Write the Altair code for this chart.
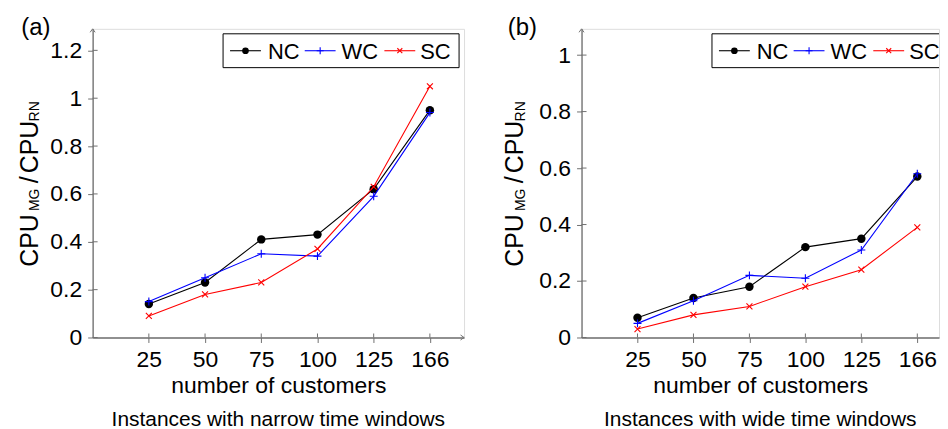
import altair as alt
import pandas as pd

# ---------------- data ----------------
customers = ["25", "50", "75", "100", "125", "166"]
series = ["NC", "WC", "SC"]
colors = ["#000000", "#0000ff", "#ff0000"]

narrow_nc = [0.14, 0.23, 0.41, 0.43, 0.62, 0.95]
narrow_wc = [0.15, 0.25, 0.35, 0.34, 0.59, 0.94]
narrow_sc = [0.09, 0.18, 0.23, 0.37, 0.63, 1.05]

wide_nc = [0.07, 0.14, 0.18, 0.32, 0.35, 0.57]
wide_wc = [0.05, 0.13, 0.22, 0.21, 0.31, 0.58]
wide_sc = [0.03, 0.08, 0.11, 0.18, 0.24, 0.39]

yticks_narrow = [0, 0.2, 0.4, 0.6, 0.8, 1.0, 1.2]
yticks_wide = [0, 0.2, 0.4, 0.6, 0.8, 1.0]

# ---------------- style ----------------
FONT = "Liberation Sans"
GRAY = "#707070"
H = 310

shapes = {"NC": "circle", "WC": "M-1,0L1,0M0,-1L0,1", "SC": "M-1,-1L1,1M-1,1L1,-1"}
sizes = {"NC": 72, "WC": 64, "SC": 36}
leg_sizes = {"NC": 45, "WC": 49, "SC": 25}
filled = {"NC": True, "WC": False, "SC": False}

# legend layout (plot-relative pixels)
leg_line_x = [138, 213, 293]
leg_text_x = [176, 250, 329]
LEG_Y = 22


def one():
    return alt.Chart(pd.DataFrame({"t": [""]}))


def txt(t, **kw):
    return alt.Chart(pd.DataFrame({"t": [t]})).mark_text(font=FONT, color="black", **kw)


def panel(values, yticks, ymax, step, width, frame, label, label_dx, ytitle_dx, caption, x_arrow):
    xmax = width / step
    idx = list(range(1, len(customers) + 1))
    label_expr = "[" + ",".join(f"'{c}'" for c in customers) + "][datum.value - 1]"
    xenc = alt.X(
        "idx:Q",
        scale=alt.Scale(domain=[0, xmax], nice=False, zero=False),
        axis=alt.Axis(
            values=idx, labelExpr=label_expr, title="number of customers", grid=False,
            domainColor=GRAY, tickColor=GRAY, tickSize=5, domainWidth=1.3, tickWidth=1,
            labelFontSize=23, labelColor="black", labelPadding=6, labelFont=FONT,
            titleFont=FONT, titleFontSize=23, titleFontWeight="normal", titleColor="black",
            titlePadding=3,
        ),
    )
    yenc = alt.Y(
        "y:Q",
        scale=alt.Scale(domain=[0, ymax], nice=False, zero=False),
        axis=alt.Axis(
            values=yticks, format="~g", title=None, grid=False,
            domainColor=GRAY, tickColor=GRAY, tickSize=5, domainWidth=1.3, tickWidth=1,
            labelFontSize=23, labelColor="black", labelPadding=6, labelFont=FONT,
        ),
    )
    layers = []
    # invisible frame fixing the panel's extent
    layers.append(
        one().mark_rect(fill="white", opacity=0)
        .encode(x=alt.value(frame[0]), x2=alt.value(frame[1]), y=alt.value(-19), y2=alt.value(404))
    )
    # inner halves of the ticks
    layers.append(
        alt.Chart(pd.DataFrame({"y": yticks})).mark_rule(color=GRAY, strokeWidth=1)
        .encode(y=yenc, x=alt.value(0), x2=alt.value(5))
    )
    layers.append(
        alt.Chart(pd.DataFrame({"idx": idx})).mark_rule(color=GRAY, strokeWidth=1)
        .encode(x=xenc, y=alt.value(H), y2=alt.value(H - 4))
    )
    # arrow heads
    layers.append(
        alt.Chart(pd.DataFrame({"idx": [0], "y": [ymax]}))
        .mark_point(shape="M-1,1.4L0,0L1,1.4", size=25, filled=False, color=GRAY, strokeWidth=1, opacity=1)
        .encode(x=xenc, y=yenc)
    )
    if x_arrow:
        layers.append(
            alt.Chart(pd.DataFrame({"idx": [xmax], "y": [0]}))
            .mark_point(shape="M-1.4,-1L0,0L-1.4,1", size=25, filled=False, color=GRAY, strokeWidth=1, opacity=1)
            .encode(x=xenc, y=yenc)
        )
    # data series
    for s, c in zip(series, colors):
        df = pd.DataFrame({"idx": idx, "y": values[s]})
        base = alt.Chart(df)
        layers.append(base.mark_line(color=c, strokeWidth=1.1).encode(x=xenc, y=yenc))
        layers.append(
            base.mark_point(shape=shapes[s], size=sizes[s], filled=filled[s], color=c,
                            strokeWidth=1.1, opacity=1)
            .encode(x=xenc, y=yenc)
        )
    # legend box (clipped to the plot area on the right panel, as in the original)
    layers.append(
        one().mark_rect(fill="white", stroke="black", strokeWidth=1, clip=True)
        .encode(x=alt.value(131), x2=alt.value(368), y=alt.value(5), y2=alt.value(39))
    )
    for i, (s, c) in enumerate(zip(series, colors)):
        x0 = leg_line_x[i]
        layers.append(
            one().mark_rule(color=c, strokeWidth=1.1)
            .encode(x=alt.value(x0), x2=alt.value(x0 + 31), y=alt.value(LEG_Y))
        )
        layers.append(
            one().mark_point(shape=shapes[s], size=leg_sizes[s], filled=filled[s], color=c,
                             strokeWidth=1.1, opacity=1)
            .encode(x=alt.value(x0 + 15.5), y=alt.value(LEG_Y))
        )
        layers.append(
            txt(s, fontSize=22, align="left", baseline="middle", clip=True)
            .encode(text="t:N", x=alt.value(leg_text_x[i]), y=alt.value(LEG_Y + 1))
        )
    # panel label
    layers.append(
        txt(label, fontSize=24, align="center", baseline="middle")
        .encode(text="t:N", x=alt.value(label_dx), y=alt.value(-1))
    )
    # y title with subscripts: CPU_MG / CPU_RN
    pieces = [("CPU", 25, 239, 0), ("MG", 14, 183, 1.8), ("/", 25, 155, 0),
              ("CPU", 25, 145, 0), ("RN", 14, 93, 1.8)]
    for t, fs, ys, dx in pieces:
        layers.append(
            txt(t, fontSize=fs, align="left", baseline="alphabetic", angle=270)
            .encode(text="t:N", x=alt.value(ytitle_dx + dx), y=alt.value(ys))
        )
    # caption
    layers.append(
        txt(caption, fontSize=21, align="center", baseline="alphabetic")
        .encode(text="t:N", x=alt.value(width / 2), y=alt.value(399))
    )
    return alt.layer(*layers).properties(width=width, height=H)


left = panel({"NC": narrow_nc, "WC": narrow_wc, "SC": narrow_sc}, yticks_narrow, 1.29, 56.45, 373,
             (-84, 376), "(a)", -57, -55.3, "Instances with narrow time windows", True)
right = panel({"NC": wide_nc, "WC": wide_wc, "SC": wide_sc}, yticks_wide, 1.093, 56.2, 359,
              (-113, 359), "(b)", -59.5, -59, "Instances with wide time windows", False)

chart = (
    alt.hconcat(left, right, spacing=0)
    .properties(padding={"left": 0, "top": 0, "right": 0, "bottom": 0})
    .configure_view(stroke=None)
    .configure(font=FONT)
)

chart.save("out.html", embed_options={"renderer": "svg", "actions": False})
